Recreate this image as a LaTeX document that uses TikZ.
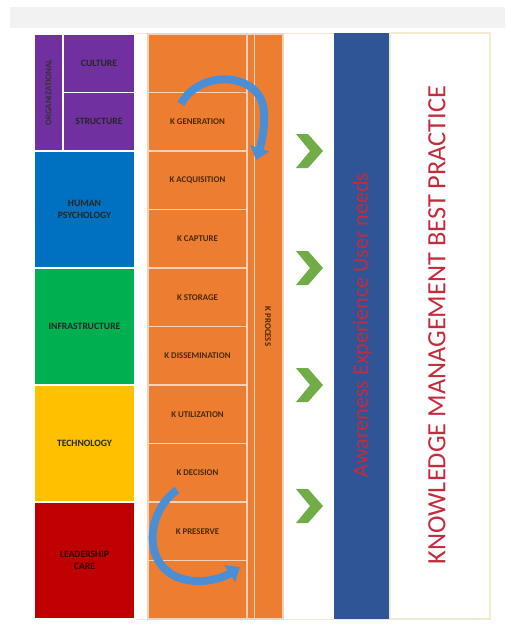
\documentclass[tikz,border=0pt]{standalone}
\usepackage{fontspec}
\setmainfont{Carlito}
\usetikzlibrary{arrows.meta, positioning}

\definecolor{kmpurple}{HTML}{7030A0}
\definecolor{kmblue}{HTML}{0070C0}
\definecolor{kmgreen}{HTML}{00B050}
\definecolor{kmyellow}{HTML}{FFC000}
\definecolor{kmred}{HTML}{C00000}
\definecolor{kmorange}{HTML}{ED7D31}
\definecolor{kmnavy}{HTML}{2F5597}
\definecolor{kmchevron}{HTML}{70AD47}
\definecolor{kmarrow}{HTML}{4A8FD6}
\definecolor{kmcrimson}{HTML}{C42B3C}
\definecolor{kmbeige}{HTML}{F3EAD2}
\definecolor{kmbrown}{HTML}{4A2A08}

\begin{document}
\begin{tikzpicture}[
    x=0.02cm, y=-0.02cm,
    node distance=0pt,
    blk/.style={rectangle, draw=white, line width=0.8pt, outer sep=0pt, inner sep=1pt, minimum width=2.02cm, minimum height=2.34cm, align=center, font=\fontsize{5.5}{6.5}\selectfont\bfseries, text=black!85},
    subblk/.style={blk, minimum width=1.44cm, minimum height=1.17cm},
    stage/.style={rectangle, draw=white!65!kmorange, fill=kmorange, line width=0.8pt, outer sep=0pt, minimum width=1.98cm, minimum height=1.17cm, font=\fontsize{5}{6}\selectfont\bfseries, text=kmbrown},
    vlbl/.style={rotate=90, font=\fontsize{5}{6}\selectfont\bfseries},
    chev/.style={fill=kmchevron, draw=none},
    turn/.style={draw=kmarrow, line width=4.5pt, -{Triangle[width=11pt, length=7pt]}}
]
\useasboundingbox (0,0) rectangle (505,636);
\fill[white] (0,0) rectangle (505,636);
\fill[black!5] (10,7) rectangle (505,28);

% outer frame
\node[rectangle, draw=kmbeige, line width=0.8pt, minimum width=9.14cm, minimum height=11.72cm, anchor=north west] (frame) at (33,33) {};

% enablers column
\node[blk, fill=kmpurple, minimum width=0.58cm, anchor=north west] (org) at (34,34) {};
\node[vlbl, text=black!80] (orglbl) at (org) {ORGANIZATIONAL};
\node[subblk, fill=kmpurple, anchor=north west] (culture) at (org.north east) {CULTURE};
\node[subblk, fill=kmpurple, below=of culture] (structure) {STRUCTURE};
\node[blk, fill=kmblue, anchor=north west] (human) at (org.south west) {HUMAN\\PSYCHOLOGY};
\node[blk, fill=kmgreen, below=of human] (infra) {INFRASTRUCTURE};
\node[blk, fill=kmyellow, below=of infra] (tech) {TECHNOLOGY};
\node[blk, fill=kmred, below=of tech, text=black!75!kmred] (lead) {LEADERSHIP\\CARE};

% knowledge process stages
\node[stage, anchor=north west] (s0) at (148,34) {};
\node[stage, below=of s0] (gen) {K GENERATION};
\node[stage, below=of gen] (acq) {K ACQUISITION};
\node[stage, below=of acq] (cap) {K CAPTURE};
\node[stage, below=of cap] (sto) {K STORAGE};
\node[stage, below=of sto] (dis) {K DISSEMINATION};
\node[stage, below=of dis] (uti) {K UTILIZATION};
\node[stage, below=of uti] (dec) {K DECISION};
\node[stage, below=of dec] (pre) {K PRESERVE};
\node[stage, below=of pre] (s9) {};
\node[rectangle, fill=kmorange, draw=white!65!kmorange, line width=0.8pt, outer sep=0pt, minimum width=0.72cm, minimum height=11.7cm, anchor=north west] (proc) at (s0.north east) {};
\draw[white!65!kmorange, line width=0.5pt] ([xshift=0.14cm]proc.north west) -- ([xshift=0.14cm]proc.south west);
\node[vlbl, rotate=180, text=kmbrown] (proclbl) at ([xshift=0.06cm]proc) {K PROCESS};

% cycle arrows
\coordinate (gstart) at (181,104);
\coordinate (gend) at (256,160);
\draw[turn] (gstart) .. controls (200,68) and (262,72) .. (264,112) .. controls (265,130) and (261,145) .. (gend);
\coordinate (pstart) at (177,490);
\coordinate (pend) at (240,567);
\draw[turn] (pstart) .. controls (142,515) and (142,578) .. (195,581) .. controls (212,582) and (226,576) .. (pend);

% chevrons
\foreach \cy in {151,268,385,506}
  \fill[chev] (296,\cy-17) -- (308,\cy-17) -- (323,\cy) -- (308,\cy+17) -- (296,\cy+17) -- (310,\cy) -- cycle;

% user needs bar
\node[rectangle, fill=kmnavy, outer sep=0pt, minimum width=1.12cm, minimum height=11.72cm, anchor=north west] (aware) at (334,33) {};
\node[rotate=90, text=kmcrimson, font=\fontsize{12.5}{14}\selectfont] (awarelbl) at (362,325) {Awareness Experience User needs};

% best practice panel
\node[rectangle, fill=white, draw=kmbeige, line width=0.8pt, outer sep=0pt, minimum width=2.0cm, minimum height=11.72cm, anchor=north west] (best) at (390,33) {};
\node[rotate=90, text=kmcrimson, font=\fontsize{15}{18}\selectfont] (bestlbl) at (437,325) {KNOWLEDGE MANAGEMENT BEST PRACTICE};

\end{tikzpicture}
\end{document}
